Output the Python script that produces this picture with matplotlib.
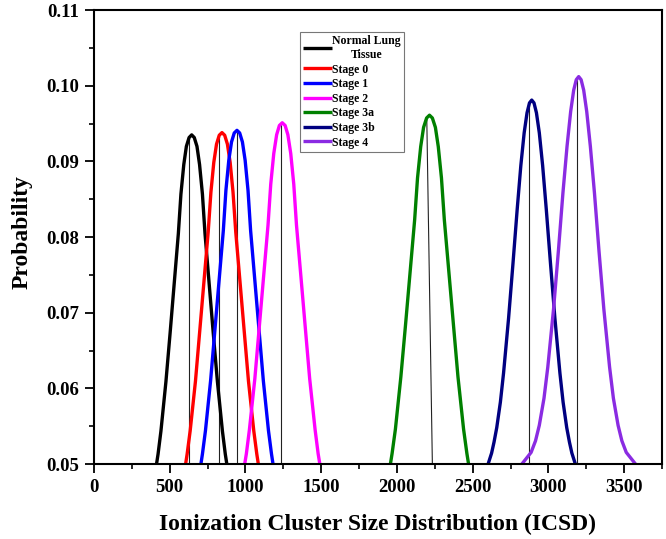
import numpy as np
import matplotlib.pyplot as plt
from matplotlib.ticker import MultipleLocator, FormatStrFormatter

plt.rcParams['font.family'] = ['Liberation Serif', 'DejaVu Serif']
plt.rcParams['font.weight'] = 'bold'

# curve points (x = ICSD, y = probability)
normal_x = [413, 423, 442, 475, 503, 530, 557, 574, 593, 610, 628, 645,
            662, 680, 697, 716, 733, 760, 787, 815, 848, 867, 877]
normal_y = [0.05, 0.0513, 0.05435, 0.06088, 0.0674, 0.07393, 0.08045, 0.08567, 0.08959, 0.09198, 0.09315, 0.0935,
            0.09315, 0.09198, 0.08959, 0.08567, 0.08045, 0.07393, 0.0674, 0.06088, 0.05435, 0.0513, 0.05]
stage0_x = [605, 615, 635, 670, 698, 726, 754, 772, 791, 809, 827, 845,
            863, 881, 899, 918, 936, 964, 992, 1020, 1055, 1075, 1085]
stage0_y = [0.05, 0.05131, 0.05438, 0.06095, 0.06752, 0.07409, 0.08066, 0.08592, 0.08986, 0.09227, 0.09345, 0.0938,
            0.09345, 0.09227, 0.08986, 0.08592, 0.08066, 0.07409, 0.06752, 0.06095, 0.05438, 0.05131, 0.05]
stage1_x = [706, 716, 736, 770, 798, 826, 854, 871, 890, 908, 926, 944,
            962, 980, 998, 1017, 1034, 1062, 1090, 1118, 1152, 1172, 1182]
stage1_y = [0.05, 0.05132, 0.05441, 0.06103, 0.06764, 0.07426, 0.08087, 0.08616, 0.09013, 0.09256, 0.09375, 0.0941,
            0.09375, 0.09256, 0.09013, 0.08616, 0.08087, 0.07426, 0.06764, 0.06103, 0.05441, 0.05132, 0.05]
stage2_x = [995, 1006, 1026, 1062, 1091, 1120, 1149, 1167, 1187, 1206, 1224, 1243,
            1262, 1280, 1299, 1319, 1337, 1366, 1395, 1424, 1460, 1480, 1491]
stage2_y = [0.05, 0.05135, 0.05451, 0.06128, 0.06804, 0.07481, 0.08157, 0.08698, 0.09104, 0.09352, 0.09474, 0.0951,
            0.09474, 0.09352, 0.09104, 0.08698, 0.08157, 0.07481, 0.06804, 0.06128, 0.05451, 0.05135, 0.05]
stage3a_x = [1957, 1968, 1990, 2026, 2057, 2087, 2117, 2136, 2157, 2176, 2196, 2215,
             2234, 2254, 2273, 2294, 2313, 2343, 2373, 2403, 2440, 2462, 2473]
stage3a_y = [0.05, 0.05138, 0.05461, 0.06153, 0.06844, 0.07536, 0.08227, 0.0878, 0.09195, 0.09449, 0.09573, 0.0961,
             0.09573, 0.09449, 0.09195, 0.0878, 0.08227, 0.07536, 0.06844, 0.06153, 0.05461, 0.05138, 0.05]
stage3b_x = [2602, 2625, 2641, 2659, 2683, 2704, 2737, 2766, 2794, 2818, 2840, 2859, 2875, 2890,
             2905, 2921, 2940, 2962, 2986, 3014, 3043, 3076, 3097, 3121, 3139, 3155, 3178]
stage3b_y = [0.05, 0.05144, 0.05289, 0.05481, 0.05818, 0.06203, 0.06924, 0.07646, 0.08367, 0.08944, 0.09377,
             0.09642, 0.09772, 0.0981, 0.09772, 0.09642, 0.09377, 0.08944, 0.08367, 0.07646, 0.06924, 0.06203,
             0.05818, 0.05481, 0.05289, 0.05144, 0.05]
stage4_x = [2825, 2886, 2915, 2940, 2971, 2996, 3034, 3066, 3096, 3123, 3147, 3167, 3184, 3200,
            3216, 3233, 3253, 3277, 3304, 3334, 3366, 3404, 3429, 3460, 3485, 3514, 3575]
stage4_y = [0.05, 0.05154, 0.05307, 0.05512, 0.0587, 0.0628, 0.07048, 0.07816, 0.08584, 0.09198, 0.09659,
            0.09941, 0.10079, 0.1012, 0.10079, 0.09941, 0.09659, 0.09198, 0.08584, 0.07816, 0.07048, 0.0628,
            0.0587, 0.05512, 0.05307, 0.05154, 0.05]

labels = ['Normal Lung\nTissue', 'Stage 0', 'Stage 1', 'Stage 2', 'Stage 3a', 'Stage 3b', 'Stage 4']
colors = ['black', '#ff0000', '#0000ff', '#ff00ff', '#008000', '#000080', '#8a2be2']
curves = [(normal_x, normal_y), (stage0_x, stage0_y), (stage1_x, stage1_y), (stage2_x, stage2_y),
          (stage3a_x, stage3a_y), (stage3b_x, stage3b_y), (stage4_x, stage4_y)]

# thin peak marker lines (top x, bottom x, top y)
peak_top_x = [630, 827, 942, 1232, 2197, 2869, 3188]
peak_bottom_x = [630, 827, 942, 1232, 2234, 2869, 3188]
peak_top_y = [0.0930, 0.0932, 0.0938, 0.0948, 0.0958, 0.0978, 0.1010]

fig = plt.figure(figsize=(6.66, 5.39), dpi=100)
ax = fig.add_axes([0.1411, 0.1391, 0.8529, 0.8423])

for xt, xb, yt in zip(peak_top_x, peak_bottom_x, peak_top_y):
    ax.plot([xb, xt], [0.05, yt], color='#222222', lw=0.8, zorder=1)

for (x, y), c, lab in zip(curves, colors, labels):
    ax.plot(x, y, color=c, lw=2.4, label=lab, zorder=2, solid_capstyle='butt')

ax.set_xlim(0, 3750)
ax.set_ylim(0.05, 0.11)
ax.xaxis.set_major_locator(MultipleLocator(500))
ax.xaxis.set_minor_locator(MultipleLocator(250))
ax.yaxis.set_major_locator(MultipleLocator(0.01))
ax.yaxis.set_minor_locator(MultipleLocator(0.005))
ax.yaxis.set_major_formatter(FormatStrFormatter('%.2f'))
ax.tick_params(which='major', direction='out', length=6.5, width=1.3, labelsize=13.5, pad=4)
ax.tick_params(which='minor', direction='out', length=3.5, width=1.2)
for sp in ax.spines.values():
    sp.set_linewidth(1.5)
for t in ax.get_xticklabels() + ax.get_yticklabels():
    t.set_fontweight('bold')

ax.set_xlabel('Ionization Cluster Size Distribution (ICSD)', fontsize=17, fontweight='bold')
ax.set_ylabel('Probability', fontsize=17, fontweight='bold')
ax.xaxis.set_label_coords(0.5, -0.134)
ax.xaxis.label.set_verticalalignment('center')
ax.yaxis.set_label_coords(-0.127, 0.51)
ax.yaxis.label.set_verticalalignment('center')

leg = ax.legend(loc='upper left', bbox_to_anchor=(0.3627, 0.951), fontsize=8.5, frameon=True,
                fancybox=False, edgecolor='#555555', handlelength=2.5, handletextpad=0.0,
                labelspacing=0.22, borderpad=0.25, borderaxespad=0)
leg.get_frame().set_linewidth(0.8)
for t in leg.get_texts():
    t.set_multialignment('center')

fig.savefig('out.png', dpi=100)
